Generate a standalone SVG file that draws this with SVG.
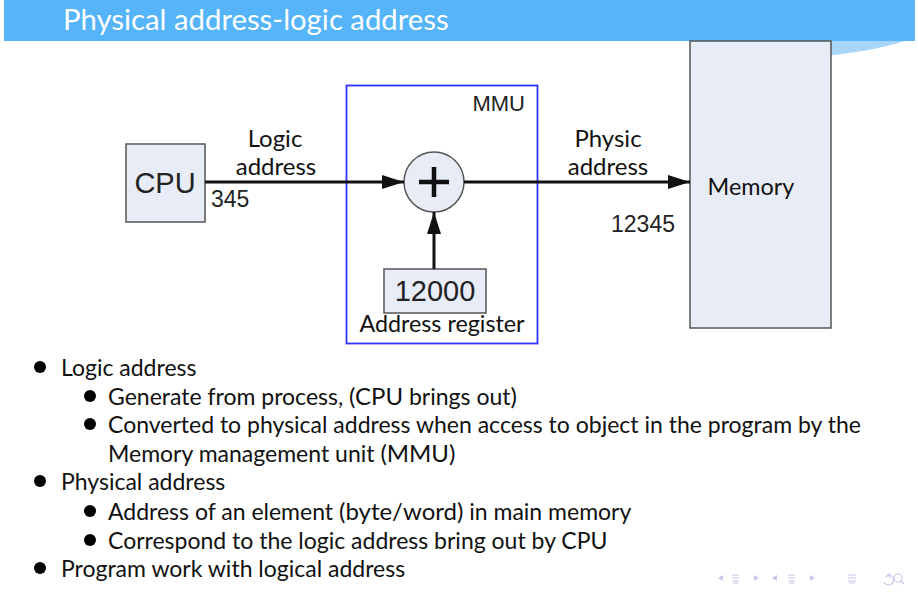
<svg xmlns="http://www.w3.org/2000/svg" width="918" height="595" viewBox="0 0 918 595">
<defs>
<style>
.box{fill:#e8ecf6;stroke:#555;stroke-width:1.5}
.ar{font-family:"Liberation Sans",Arial,sans-serif;fill:#222}
.ca{font-family:Lato,"Open Sans",sans-serif;fill:#111}
.bt{font-family:Lato,"Open Sans",sans-serif;fill:#111;font-size:23px}
.line{stroke:#111;stroke-width:3;fill:none}
.nav{fill:#c8c4ee;stroke:none}
.navl{stroke:#c8c4ee;stroke-width:1.2;fill:none}
</style>
<marker id="ahb" markerWidth="22" markerHeight="14" refX="22" refY="7" orient="auto" markerUnits="userSpaceOnUse" viewBox="0 0 22 14">
<path d="M0,0 L22,7 L0,14 Z" fill="#111"/>
</marker>
</defs>
<rect x="0" y="0" width="918" height="595" fill="#fff"/>
<g id="header">
<rect x="4" y="0" width="911" height="41" fill="#55b4fa"/>
<path d="M818,41 L905,41 Q870,52 822,56 Z" fill="#a8d6fb"/>
<text x="63" y="30" font-family="Lato,'Open Sans',sans-serif" font-size="29.3" fill="#fff">Physical address-logic address</text>
</g>
<g id="mmu">
<rect x="346.5" y="85.5" width="191" height="258" fill="none" stroke="#3333ff" stroke-width="1.8"/>
<text x="525" y="111" class="ar" font-size="22" text-anchor="end">MMU</text>
</g>
<g id="memory">
<rect x="690" y="41" width="141" height="287" class="box"/>
<text x="751" y="195" class="ca" font-size="23.4" text-anchor="middle">Memory</text>
</g>
<g id="cpu">
<rect x="126" y="144" width="79" height="78" class="box"/>
<text x="165" y="193" class="ar" font-size="29" text-anchor="middle">CPU</text>
</g>
<g id="adder">
<circle cx="434" cy="182" r="30" class="box"/>
<path d="M434,167 V197 M419,182 H449" stroke="#111" stroke-width="4.5"/>
</g>
<g id="register">
<rect x="384" y="269" width="102" height="44" class="box"/>
<text x="435" y="301" class="ar" font-size="29" text-anchor="middle">12000</text>
<text x="442" y="332" class="ca" font-size="23.3" text-anchor="middle">Address register</text>
</g>
<g id="connectors">
<line x1="205" y1="182" x2="404" y2="182" class="line" marker-end="url(#ahb)"/>
<line x1="464" y1="182" x2="690" y2="182" class="line" marker-end="url(#ahb)"/>
<line x1="434" y1="269" x2="434" y2="212" class="line" marker-end="url(#ahb)"/>
</g>
<g id="labels">
<text x="275" y="147" class="ca" font-size="24" text-anchor="middle">Logic</text>
<text x="276" y="175" class="ca" font-size="24" text-anchor="middle">address</text>
<text x="211" y="207" class="ar" font-size="23" fill="#333">345</text>
<text x="608" y="147" class="ca" font-size="24" text-anchor="middle">Physic</text>
<text x="608" y="175" class="ca" font-size="24" text-anchor="middle">address</text>
<text x="675" y="232" class="ar" font-size="23" text-anchor="end" fill="#333">12345</text>
</g>
<g id="bullets">
<circle cx="40" cy="367" r="6" fill="#000"/>
<text x="61" y="376" class="bt">Logic address</text>
<circle cx="90" cy="396" r="6" fill="#000"/>
<text x="108" y="405" class="bt">Generate from process, <tspan font-size="24">(CPU</tspan> brings out<tspan font-size="24">)</tspan></text>
<circle cx="90" cy="424" r="6" fill="#000"/>
<text x="108" y="433" class="bt">Converted to physical address when access to object in the program by the</text>
<text x="108" y="462" class="bt">Memory management unit <tspan font-size="24">(MMU)</tspan></text>
<circle cx="40" cy="481" r="6" fill="#000"/>
<text x="61" y="490" class="bt">Physical address</text>
<circle cx="90" cy="511" r="6" fill="#000"/>
<text x="108" y="520" class="bt">Address of an element <tspan font-size="24">(byte/word)</tspan> in main memory</text>
<circle cx="90" cy="540" r="6" fill="#000"/>
<text x="108" y="549" class="bt">Correspond to the logic address bring out by CPU</text>
<circle cx="40" cy="568" r="6" fill="#000"/>
<text x="61" y="577" class="bt">Program work with logical address</text>
</g>
<g id="navigation">
<path d="M723,581 L718,578 L723,575 Z" class="nav"/>
<path d="M732,575 H739 M732,578 H739 M732,581 H739 M733,583 H738" class="navl"/>
<path d="M754,575 L759,578 L754,581 Z" class="nav"/>
<path d="M777,581 L772,578 L777,575 Z" class="nav"/>
<path d="M788,575 H795 M788,578 H795 M788,581 H795 M789,583 H794" class="navl"/>
<path d="M810,575 L815,578 L810,581 Z" class="nav"/>
<path d="M848,575 H856 M848,578 H856 M848,581 H856 M849,583 H855" class="navl"/>
<path d="M888,575 A5,5 0 1 1 884,582" class="navl"/>
<path d="M886,577 L889,574 L890,578" class="navl"/>
<circle cx="898" cy="578" r="4" class="navl"/>
<path d="M901,581 L904,584" class="navl"/>
</g>
</svg>
